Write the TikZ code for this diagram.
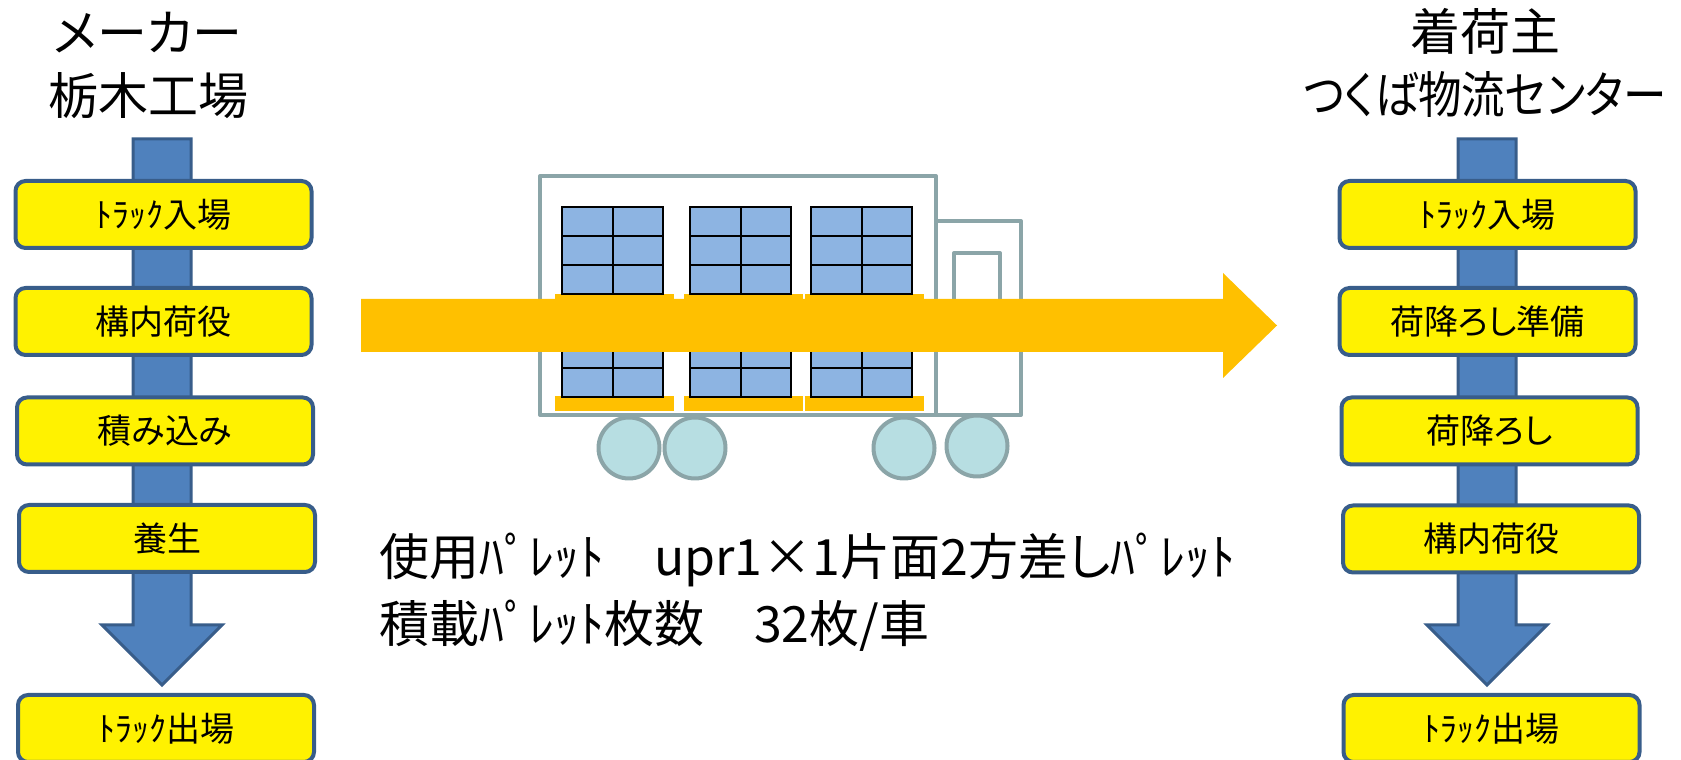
\documentclass[tikz,border=0pt]{standalone}
\usepackage{fontspec}
\setmainfont{Noto Sans CJK JP}[RawFeature=+palt]
\usetikzlibrary{positioning}
\usetikzlibrary{calc}
\usetikzlibrary{backgrounds}
\definecolor{boxline}{HTML}{385D8A}
\definecolor{flowblue}{HTML}{4F81BD}
\definecolor{truckgray}{HTML}{8BA5A8}
\definecolor{wheelblue}{HTML}{B7DEE2}
\definecolor{loadblue}{HTML}{8DB4E2}
\definecolor{haulorange}{HTML}{FFC000}
\tikzset{stepbox/.style = {draw=boxline, fill=yellow, line width=4, rounded corners=10,
    minimum width=296, minimum height=67, inner sep=0, font=\fontsize{34}{40}\selectfont}}
\tikzset{headline/.style = {align=center, inner sep=0, font=\fontsize{50}{63}\selectfont}}
\tikzset{flow/.style = {draw=boxline, fill=flowblue, line width=3}}
\tikzset{truck/.style = {draw=truckgray, line width=4, line join=round}}
\tikzset{load/.style = {draw=black, fill=loadblue, line width=2}}

\begin{document}
\begin{tikzpicture}[x=1pt, y=1pt]
      \clip (0,0) rectangle (1681,760);
      % the two sites
      \node[headline] (maker) at (148,695) {メーカー\\栃木工場};
      \node[headline] (dest) at (1485,697) {着荷主\\\scalebox{0.87}[1]{つくば物流センター}};
      % steps at the maker
      \node[stepbox] (l1) at (163.5,545.5) {ﾄﾗｯｸ入場};
      \node[stepbox] (l2) at (163.5,438.5) {構内荷役};
      \node[stepbox] (l3) at (165,329) {積み込み};
      \node[stepbox] (l4) at (167,221.5) {養生};
      \node[stepbox] (l5) at (166,31.5) {ﾄﾗｯｸ出場};
      % steps at the receiver
      \node[stepbox] (r1) at (1487.5,545.5) {ﾄﾗｯｸ入場};
      \node[stepbox] (r2) at (1487.5,438.5) {荷降ろし準備};
      \node[stepbox] (r3) at (1489.5,329) {荷降ろし};
      \node[stepbox] (r4) at (1491,221) {構内荷役};
      \node[stepbox] (r5) at (1491.5,31.5) {ﾄﾗｯｸ出場};
      % flow behind the step boxes
      \coordinate (ltop) at (162,621);
      \coordinate (rtop) at (1487,621);
      \begin{scope}[on background layer]
        \foreach \top/\last in {ltop/l5, rtop/r5} {
          \coordinate (tip) at ($(\top |- \last.north)+(0,8)$);
          \draw[flow] ($(\top)+(-29,0)$) -- ($(\top)+(29,0)$) -- ($(tip)+(29,60)$)
            -- ($(tip)+(60,60)$) -- (tip) -- ($(tip)+(-60,60)$) -- ($(tip)+(-29,60)$) -- cycle;
        }
      \end{scope}
      % truck
      \foreach \wx/\wy in {629/312, 695/312, 904/312, 977/314}
        \draw[truck, fill=wheelblue] (\wx,\wy) circle [radius=30.5];
      \draw[truck] (540,584) rectangle (936,345);
      \draw[truck] (936,539) rectangle (1021,345);
      \draw[truck] (954,507) rectangle (1000,440);
      % pallets, two layers of cases on each
      \foreach \bx/\px in {562/555, 690/684, 811/805} {
        \fill[haulorange] (\px,466) rectangle +(119,-15);
        \fill[haulorange] (\px,364) rectangle +(119,-15);
        \foreach \sy in {466,363}
          \foreach \i in {0,1}
            \foreach \j in {0,1,2}
              \draw[load] (\bx+\i*50.5,\sy+\j*29) rectangle +(50.5,29);
      }
      % haul arrow on top
      \coordinate (haul0) at (361,434.5);
      \coordinate (haul1) at (1277,434.5);
      \fill[haulorange] ($(haul0)+(0,26.5)$) -- ($(haul1)+(-54,26.5)$) -- ($(haul1)+(-54,52.5)$)
        -- (haul1) -- ($(haul1)+(-54,-52.5)$) -- ($(haul1)+(-54,-26.5)$) -- ($(haul0)+(0,-26.5)$) -- cycle;
      % pallet spec
      \node[align=left, inner sep=0, anchor=west, font=\fontsize{50}{67}\selectfont] (spec) at (379,168)
        {使用ﾊﾟﾚｯﾄ　upr1×1片面2方差しﾊﾟﾚｯﾄ\\積載ﾊﾟﾚｯﾄ枚数　32枚/車};
\end{tikzpicture}
\end{document}
